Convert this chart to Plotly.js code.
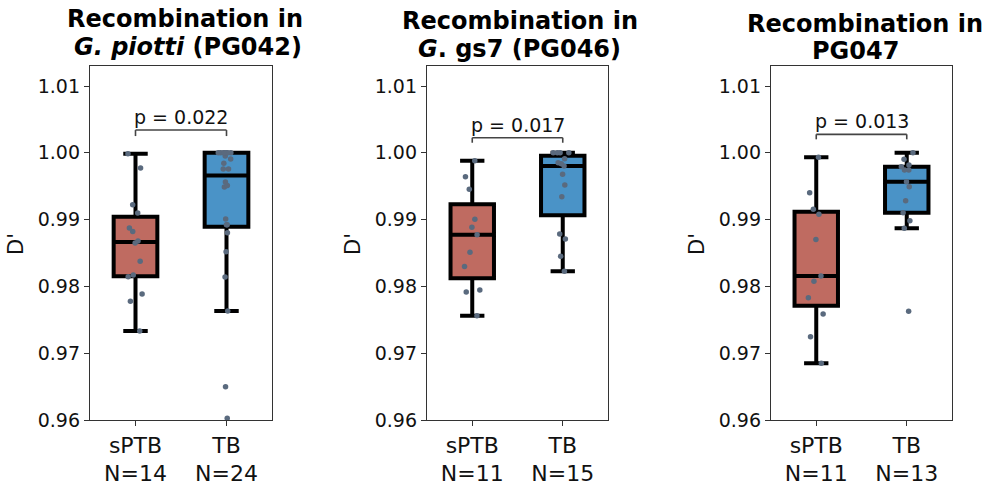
<!DOCTYPE html>
<html><head><meta charset="utf-8">
<script src="https://cdn.plot.ly/plotly-3.0.1.min.js"></script>
<style>html,body{margin:0;padding:0;background:#fff}#chart{width:985px;height:486px}</style>
</head><body><div id="chart"></div>
<script>
// ---- data ----
const categories = ['sPTB', 'TB'];
const pg042_sPTB = [0.99987, 0.99772, 0.99223, 0.99099, 0.98874, 0.98824, 0.98680, 0.98650, 0.98375, 0.98171, 0.98146, 0.97886, 0.97777, 0.97332];
const pg042_TB = [1.0, 1.0, 1.0, 1.0, 1.0, 1.0, 1.0, 0.99952, 0.99907, 0.99843, 0.99757, 0.99757, 0.99563, 0.99510, 0.99490, 0.99009, 0.98924, 0.98924, 0.98804, 0.98520, 0.98141, 0.97632, 0.96499, 0.96025];
const pg046_sPTB = [0.99882, 0.99643, 0.99453, 0.99004, 0.98884, 0.98774, 0.98510, 0.98300, 0.97946, 0.97916, 0.97562];
const pg046_TB = [1.0, 1.0, 1.0, 1.0, 0.99910, 0.99852, 0.99837, 0.99802, 0.99678, 0.99518, 0.99344, 0.98784, 0.98710, 0.98450, 0.98226];
const pg047_sPTB = [0.99932, 0.99403, 0.99154, 0.99079, 0.98704, 0.98156, 0.98076, 0.97831, 0.97587, 0.97248, 0.96848];
const pg047_TB = [1.0, 0.99903, 0.99817, 0.99792, 0.99743, 0.99743, 0.99568, 0.99493, 0.99284, 0.99104, 0.98984, 0.98869, 0.97627];
const pValues = ['0.022', '0.017', '0.013'];
const titleLine1 = ['Recombination in', 'Recombination in', 'Recombination in'];
const titleLine2 = ['<i>G. piotti</i> (PG042)', '<i>G</i>. gs7 (PG046)', 'PG047'];
const yLabel = "D'";

const panels = [[pg042_sPTB, pg042_TB], [pg046_sPTB, pg046_TB], [pg047_sPTB, pg047_TB]];

// ---- styling ----
const FONT = 'DejaVu Sans, Verdana, sans-serif';
const W = 985, H = 486;
const boxFill = ['#bf6b61', '#4a93c7'];
const pointColor = '#5a6a7e';
const xDomPx = [[90, 272], [427, 608], [771, 952]];
const yDomPx = [66, 420];
const bracketTop = [1.00341, 1.00226, 1.00277];
const bracketEnd = [1.00251, 1.00151, 1.00202];
const title1Pos = [[185, 19], [520, 21], [864.5, 24]];
const title2Pos = [[187.5, 47], [519, 49], [855.5, 51]];

function quantile(s, p) {
  const pos = (s.length - 1) * p, lo = Math.floor(pos), hi = Math.ceil(pos);
  return s[lo] + (s[hi] - s[lo]) * (pos - lo);
}
function stats(arr) {
  const s = [...arr].sort((a, b) => a - b);
  const q1 = quantile(s, 0.25), med = quantile(s, 0.5), q3 = quantile(s, 0.75);
  const iqr = q3 - q1;
  const lo = s.find(v => v >= q1 - 1.5 * iqr);
  const hi = [...s].reverse().find(v => v <= q3 + 1.5 * iqr);
  return {q1, med, q3, lo, hi};
}

const traces = [], shapes = [], annotations = [];
const layout = {
  width: W, height: H, margin: {l: 0, r: 0, t: 0, b: 0},
  paper_bgcolor: '#fff', plot_bgcolor: '#fff', showlegend: false,
  boxmode: 'overlay', font: {family: FONT, color: '#111'}
};

panels.forEach((grp, i) => {
  const sfx = i === 0 ? '' : String(i + 1);
  const xa = 'x' + sfx, ya = 'y' + sfx;
  grp.forEach((vals, j) => {
    const st = stats(vals);
    traces.push({
      type: 'box', xaxis: xa, yaxis: ya,
      x: [categories[j]], q1: [st.q1], median: [st.med], q3: [st.q3],
      lowerfence: [st.lo], upperfence: [st.hi],
      width: 0.48, whiskerwidth: 0.56,
      fillcolor: boxFill[j], line: {color: '#000', width: 4},
      boxpoints: false, hoverinfo: 'skip'
    });
  });
  grp.forEach((vals, j) => {
    traces.push({
      type: 'box', xaxis: xa, yaxis: ya,
      x: vals.map(() => categories[j]), y: vals,
      width: 0.48, boxpoints: 'all', jitter: 0.45, pointpos: 0,
      fillcolor: 'rgba(0,0,0,0)', line: {color: 'rgba(0,0,0,0)', width: 0},
      whiskerwidth: 0,
      marker: {color: pointColor, size: 5.5},
      hoverinfo: 'skip'
    });
  });
  layout['xaxis' + sfx] = {
    domain: [xDomPx[i][0] / W, xDomPx[i][1] / W], anchor: ya,
    type: 'category', categoryorder: 'array', categoryarray: categories,
    range: [-0.5, 1.5], tickvals: categories,
    ticktext: categories.map((c, j) => c + '<br>N=' + grp[j].length),
    ticks: 'outside', ticklen: 5, tickwidth: 1, tickcolor: '#333',
    showline: true, linecolor: '#333', linewidth: 1.2, mirror: true,
    showgrid: false, zeroline: false,
    tickfont: {family: FONT, size: 22, color: '#111'}
  };
  layout['yaxis' + sfx] = {
    domain: [(H - yDomPx[1]) / H, (H - yDomPx[0]) / H], anchor: xa,
    range: [0.96, 1.0130], tick0: 0.96, dtick: 0.01, tickformat: '.2f',
    ticks: 'outside', ticklen: 5, tickwidth: 1, tickcolor: '#333',
    showline: true, linecolor: '#333', linewidth: 1.2, mirror: true,
    showgrid: false, zeroline: false,
    tickfont: {family: FONT, size: 19, color: '#111'}
  };
  // significance bracket
  const br = {type: 'line', xref: xa, yref: ya, line: {color: '#444', width: 1.6}};
  shapes.push(Object.assign({}, br, {x0: 0, x1: 1, y0: bracketTop[i], y1: bracketTop[i]}));
  shapes.push(Object.assign({}, br, {x0: 0, x1: 0, y0: bracketEnd[i], y1: bracketTop[i]}));
  shapes.push(Object.assign({}, br, {x0: 1, x1: 1, y0: bracketEnd[i], y1: bracketTop[i]}));
  annotations.push({
    xref: xa, yref: ya, x: 0.5, y: bracketTop[i], yanchor: 'bottom', xanchor: 'center',
    text: 'p = ' + pValues[i], showarrow: false,
    font: {family: FONT, size: 19, color: '#111'}
  });
  // titles
  annotations.push({
    xref: 'paper', yref: 'paper', x: title1Pos[i][0] / W, y: 1 - title1Pos[i][1] / H,
    xanchor: 'center', yanchor: 'middle', showarrow: false,
    text: '<b>' + titleLine1[i] + '</b>', font: {family: FONT, size: 24, color: '#000'}
  });
  annotations.push({
    xref: 'paper', yref: 'paper', x: title2Pos[i][0] / W, y: 1 - title2Pos[i][1] / H,
    xanchor: 'center', yanchor: 'middle', showarrow: false,
    text: '<b>' + titleLine2[i] + '</b>', font: {family: FONT, size: 24, color: '#000'}
  });
  // y-axis label
  annotations.push({
    xref: 'paper', yref: 'paper', x: (xDomPx[i][0] - 74) / W, y: 1 - 244 / H,
    xanchor: 'center', yanchor: 'middle', showarrow: false, textangle: -90,
    text: yLabel, font: {family: FONT, size: 21, color: '#111'}
  });
});
layout.shapes = shapes;
layout.annotations = annotations;

Plotly.newPlot('chart', traces, layout, {displayModeBar: false, staticPlot: true});
</script></body></html>
